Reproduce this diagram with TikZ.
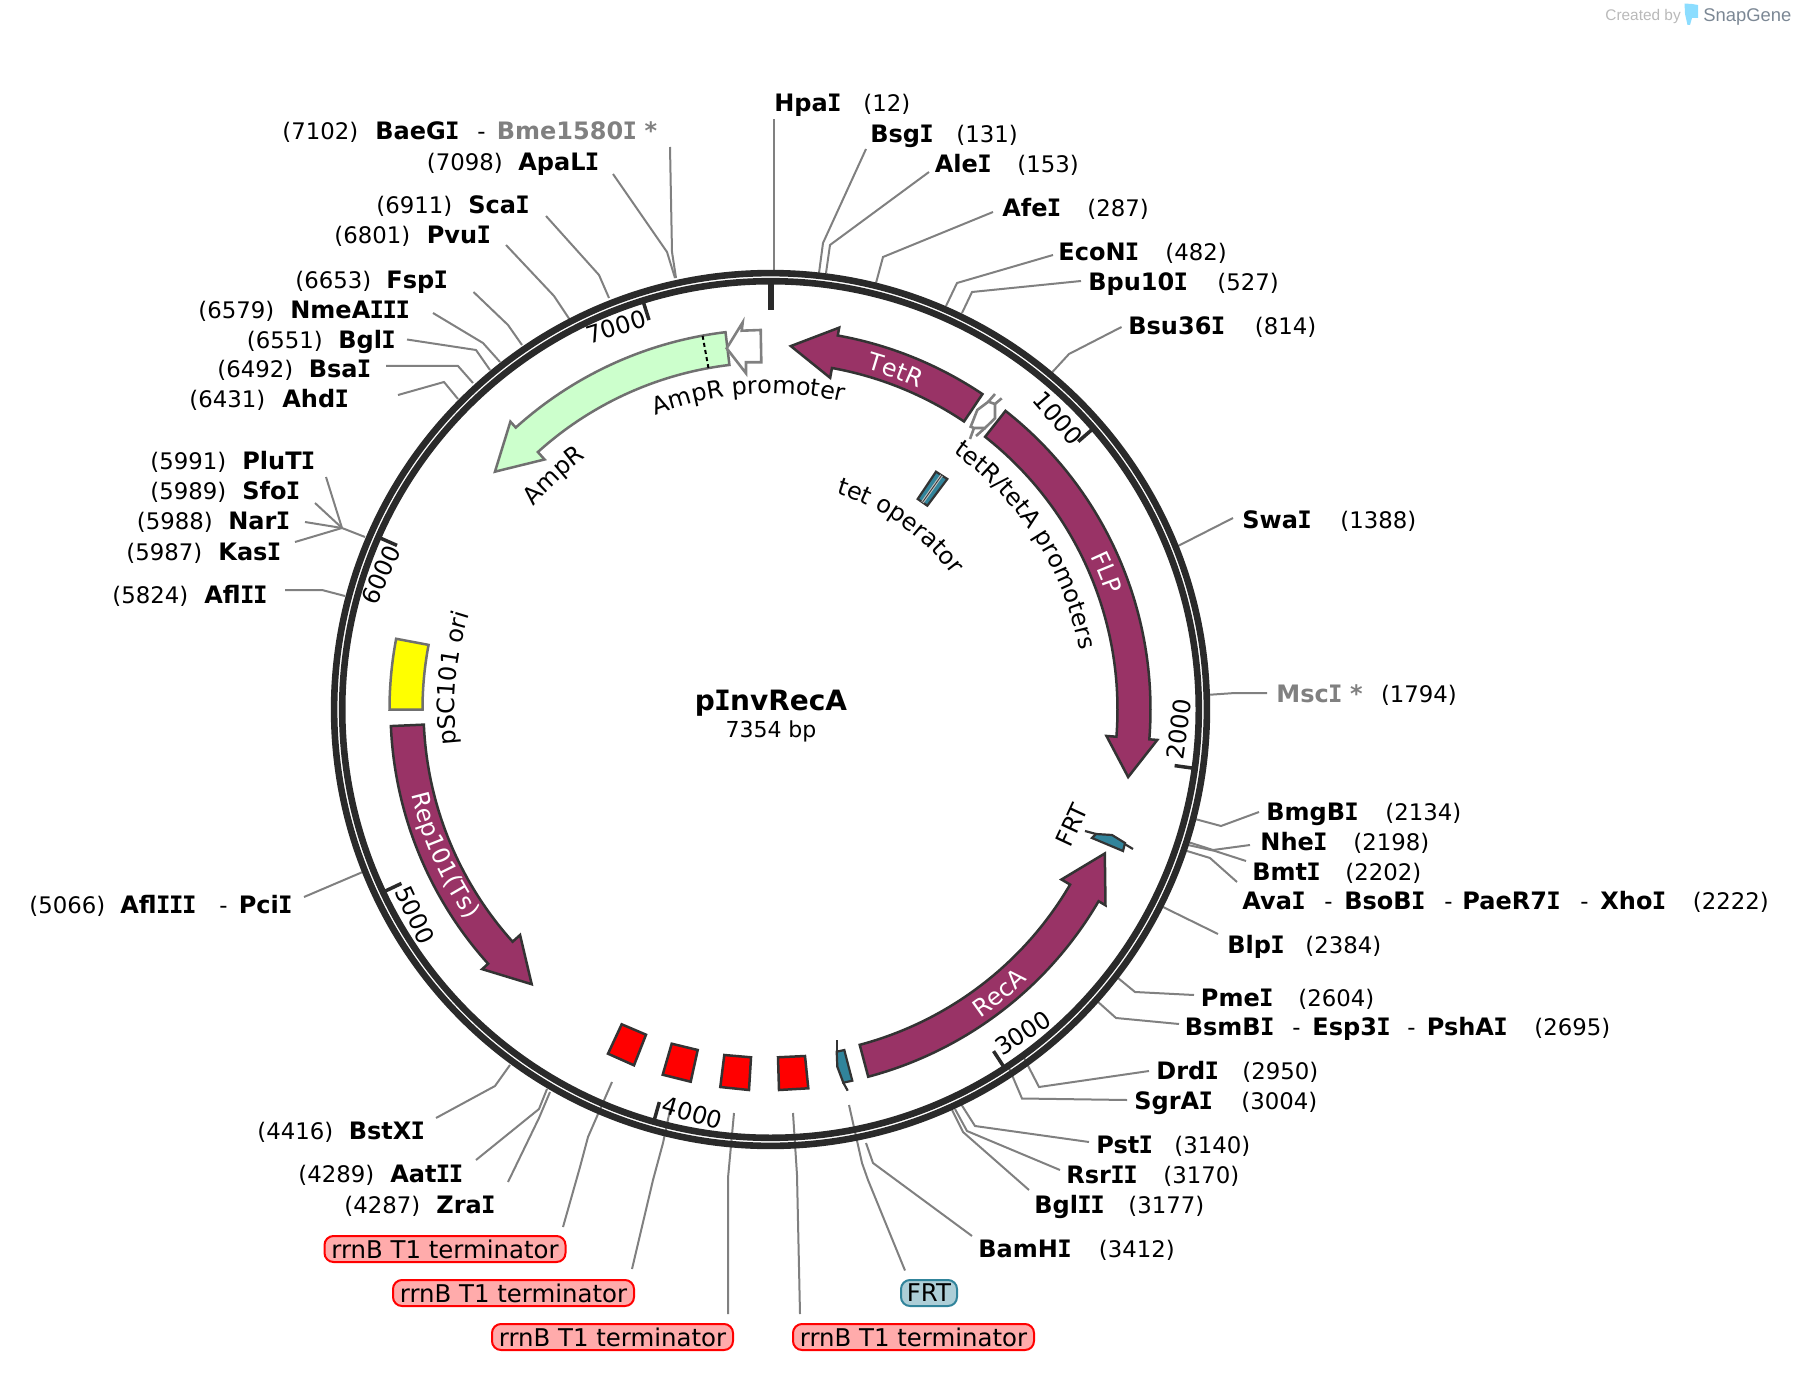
\documentclass[tikz,border=0pt]{standalone}
\usepackage{fontspec}
\setmainfont{DejaVu Sans}
\newfontfamily\logofont{Liberation Sans}
\newfontfamily\slabfont{DejaVu Sans Mono}
\usetikzlibrary{decorations.text}
\definecolor{ringc}{HTML}{2A2A2A}
\definecolor{linec}{HTML}{808080}
\definecolor{plum}{HTML}{993366}
\definecolor{teal2}{HTML}{31849B}
\definecolor{ampg}{HTML}{CCFFCC}
\definecolor{edged}{HTML}{333333}
\definecolor{edgeg}{HTML}{707070}
\definecolor{greyname}{HTML}{808080}
\definecolor{oriyellow}{HTML}{FFFF00}
\newcommand\lblf{\fontsize{12}{14}\selectfont}
\newcommand\posf{\fontsize{11.4}{14}\selectfont}
\newcommand\namef{\fontsize{12}{14}\selectfont\bfseries}
% capital I with slab serifs, as the reference's face draws it
\newcommand\Iz{{\slabfont\kern-.03em I\kern-.03em}}
\newcommand\Pol[2]{({(#1)-90}:#2)}
% label helpers: id, x of position, x of name, y centre, position text, name
\newcommand\SpLab[6]{%
  \node[postext] (#1-pos) at (#2,#4+8.6) {#5};
  \node[nametext] (#1-name) at (#3,#4+8.6) {#6};}
\newcommand\ExLab[4]{\node[postext] (#1) at (#2,#3+8.6) {#4};}
\newcommand\NmLab[4]{\node[nametext] (#1) at (#2,#3+8.6) {#4};}
\newcommand\GnLab[4]{\node[nametext,text=greyname] (#1) at (#2,#3+8.6) {#4};}
\newcommand\CutB[3]{\coordinate (#1-a) at (#2); \coordinate (#1-z) at (#3);
  \draw[cutline] (#1-a) -- (#1-z);}
\newcommand\CutC[4]{\coordinate (#1-a) at (#2); \coordinate (#1-b) at (#3); \coordinate (#1-z) at (#4);
  \draw[cutline] (#1-a) -- (#1-b) -- (#1-z);}
\newcommand\CutD[5]{\coordinate (#1-a) at (#2); \coordinate (#1-b) at (#3); \coordinate (#1-c) at (#4); \coordinate (#1-z) at (#5);
  \draw[cutline] (#1-a) -- (#1-b) -- (#1-c) -- (#1-z);}
\newcommand\ArcArrow[4]{%
  \draw[#4] \Pol{#1}{380} arc[start angle={(#1)-90}, end angle={(#2)-90}, radius=190pt]
    -- \Pol{#2}{388} -- \Pol{#3}{364} -- \Pol{#2}{337} -- \Pol{#2}{347}
    arc[start angle={(#2)-90}, end angle={(#1)-90}, radius=173.5pt] -- cycle;}
% text on an arc: centre angle, half span, radius, format, text
\newcommand\CwText[5]{%
  \path[decorate,decoration={text along path,text align=center,text={|\lblf #4|#5}}]
    \Pol{(#1)-(#2)}{#3} arc[start angle={(#1)-(#2)-90}, end angle={(#1)+(#2)-90}, radius=#3*0.5pt];}
\newcommand\CcwText[5]{%
  \path[decorate,decoration={text along path,text align=center,text={|\lblf #4|#5}}]
    \Pol{(#1)+(#2)}{#3} arc[start angle={(#1)+(#2)-90}, end angle={(#1)-(#2)-90}, radius=#3*0.5pt];}
\tikzset{
  cutline/.style={draw=linec,line width=1pt},
  postext/.style={anchor=base west,inner sep=0pt,font=\posf},
  nametext/.style={anchor=base west,inner sep=0pt,font=\namef},
  ringband/.style={draw=ringc,line width=3.3pt},
  zerotick/.style={draw=ringc,line width=3pt},
  tickmark/.style={draw=ringc,line width=1.75pt},
  ticktext/.style={inner sep=0pt,font=\lblf},
  plumarrow/.style={draw=edged,fill=plum,line width=1.25pt,line join=miter},
  greenarrow/.style={draw=edgeg,fill=ampg,line width=1.25pt},
  redbox/.style={draw=edged,fill=red,line width=1.25pt},
  tealbox/.style={draw=edged,fill=teal2,line width=1.1pt},
  whisker/.style={draw=edged,line width=1.1pt},
  promo/.style={draw=linec,fill=white,line width=1.3pt},
  rrnpill/.style={draw=red,fill=red!33,line width=1pt,rounded corners=4.5pt,inner sep=0pt,
    minimum width=120.5pt,minimum height=13pt,font=\fontsize{12.2}{14}\selectfont,text=black},
  frtpill/.style={draw=teal2,fill=teal2!40,line width=1pt,rounded corners=4.5pt,inner sep=0pt,
    minimum width=28pt,minimum height=13pt,font=\fontsize{12.2}{14}\selectfont,text=black},
}
\begin{document}
\begin{tikzpicture}[x=0.5pt,y=0.5pt,yscale=-1]
\useasboundingbox (0,0) rectangle (1798,1374);
\coordinate (C) at (770.5,709.5);

% ---------- cut-site connectors ----------
\CutB{hpa}{774,275}{774,119}
\CutC{bsg}{819,273}{823,243}{866,149}
\CutC{ale}{826,273}{830,245}{929,172}
\CutC{afe}{876,283}{883,257}{993,212}
\CutC{eco}{946,306}{957,283}{1053,255}
\CutC{bpu}{962,313}{972,292}{1081,281}
\CutC{bsu}{1051.5,373}{1069,354}{1121.5,327}
\CutB{swa}{1178,546}{1233,518}
\CutC{msc}{1206,695}{1235,693}{1267,693}
\CutC{bmg}{1195,819}{1221,826}{1259,812}
\CutC{nhe}{1188,842}{1213,850}{1250,845}
\CutC{bmt}{1188,845}{1215,851}{1246,861}
\CutC{ava}{1187,851}{1210,858}{1237,882}
\CutB{blp}{1163,907}{1218,934}
\CutC{pme}{1118,978}{1135,992}{1194,995}
\CutC{bsm}{1097,1001}{1116,1018}{1179,1024}
\CutC{drd}{1024,1058}{1039,1087}{1149,1071}
\CutC{sgr}{1009,1068}{1022,1098.5}{1127,1100}
\CutC{pst}{961,1104}{975,1126}{1089,1142}
\CutC{rsr}{955,1109}{967,1131}{1060,1170}
\CutC{bgl2}{952,1110}{963,1132}{1029,1190}
\CutC{bam}{866,1143}{873,1163}{972,1236}
\CutD{frtl}{849,1105}{862,1163}{868,1180}{905,1270.5}
\CutC{rrnd}{793,1113}{797,1175}{800,1314}
\CutC{rrnc}{734,1113}{728,1178}{728,1314}
\CutD{rrnb}{670,1110}{663,1143}{653,1180}{632,1269}
\CutD{rrna}{612,1082}{588,1137}{580,1167}{563,1227}
\CutC{zra}{550,1092}{539,1118}{508,1182}
\CutC{aat}{547,1089}{539,1109}{476,1160}
\CutC{bst}{510,1065}{495,1086}{436,1118}
\CutB{afl3}{365,871}{304,897}
\CutC{afl2}{345,596}{322,590}{285,590}
\coordinate (fork) at (342,528);
\coordinate (forkring) at (365,537);
\draw[cutline] (forkring) -- (fork);
\coordinate (plu-z) at (326,477); \draw[cutline] (fork) -- (plu-z);
\coordinate (sfo-z) at (315,503); \draw[cutline] (fork) -- (sfo-z);
\coordinate (nar-z) at (305,522); \draw[cutline] (fork) -- (nar-z);
\coordinate (kas-z) at (295,542); \draw[cutline] (fork) -- (kas-z);
\CutC{ahd}{458,399}{444,382}{398,395}
\CutC{bsa}{473,383}{458,366}{386,366}
\CutC{bgl1}{490,370}{476,350}{407,339.5}
\CutC{nme}{500,362}{483,343}{433,313}
\CutC{fsp}{522,345}{508,325}{473.5,292}
\CutC{pvu}{570,320}{554,296}{506,245}
\CutC{sca}{609,298}{599,275}{546,216}
\CutC{apa}{675,278}{667,252}{613,174}
\CutC{bae}{676,278}{672,252}{670,147}

% ---------- backbone ----------
\draw[ringband] (C) circle[radius=218.2pt];
\draw[ringband] (C) circle[radius=214.15pt];

\begin{scope}[shift={(770.5,709.5)}]
% ticks
\draw[zerotick] \Pol{0}{426} -- \Pol{0}{399};
\foreach \a in {48.953,97.906,146.859,195.812,244.765,293.718,342.671}
  \draw[tickmark] \Pol{\a}{426} -- \Pol{\a}{408};

% arrow features
\ArcArrow{33.9}{10.2}{3.2}{plumarrow}
\ArcArrow{38.2}{94.5}{100.7}{plumarrow}
\ArcArrow{165.1}{120.3}{113.3}{plumarrow}
\ArcArrow{267.5}{228}{221}{plumarrow}
\ArcArrow{-6.8}{-42.1}{-49.2}{greenarrow}
\draw[black,line width=1pt,dash pattern=on 2pt off 1.6pt] \Pol{-10.3}{347} -- \Pol{-10.3}{380};
% pSC101 ori
\draw[draw=edgeg,fill=oriyellow,line width=1.25pt] \Pol{270}{381} arc[start angle=180, end angle=190.7, radius=190.5pt]
  -- \Pol{280.7}{348} arc[start angle=190.7, end angle=180, radius=174pt] -- cycle;

% feature texts on arcs
\CwText{-4.0}{30}{316}{}{AmpR promoter}
\CwText{-42.8}{20}{312}{}{AmpR}
\CwText{20.3}{12}{354}{\color{white}}{TetR}
\CwText{67.8}{12}{355}{\color{white}}{FLP}
\CwText{57.3}{32}{315}{}{tetR/tetA promoters}
\CwText{35.2}{32}{226}{}{tet operator}
\CwText{-84.4}{20}{316}{}{pSC101 ori}
\CcwText{246}{18}{369}{\color{white}}{Rep101(Ts)}
\CcwText{141.1}{12}{373}{\color{white}}{RecA}
\end{scope}

% AmpR promoter arrow
\draw[promo] (726.7,348.3) -- (742.7,322.3) -- (741.7,330.7) -- (760.7,330) -- (761.3,362.3) -- (746,362.3) -- (746,373.3) -- cycle;

% tetR/tetA promoters
\draw[promo] (988.3,401.7) -- (995,404) -- (995,418.3) -- (985,428) -- (974,428) -- (970.7,426.7) -- (977.3,410) -- cycle;
\draw[cutline,line width=1.3pt] (988.3,401.7) -- (995,394);
\draw[cutline,line width=1.3pt] (995,404) -- (1001.7,398.3);
\draw[cutline,line width=1.3pt] (974,428) -- (970,439);
\draw[cutline,line width=1.3pt] (985,428) -- (976,436);

% tet operator
\draw[tealbox] (936,471.7) -- (947.3,479) -- (927.3,505.7) -- (917.7,499) -- cycle;
\draw[draw=lightgray,line width=1.5pt] (941.6,475.3) -- (922.5,502.3);
\draw[draw=edged,line width=.4pt] (941.6,475.3) -- (922.5,502.3);

% FRT right
\draw[whisker] (1085,831) -- (1096,834);
\draw[whisker] (1123,843) -- (1133,849);
\draw[tealbox] (1092,838) -- (1096,834) -- (1112,835) -- (1125,843) -- (1123,851) -- cycle;

% FRT bottom
\draw[whisker] (837.3,1040) -- (837.3,1066.7);
\draw[whisker] (843.3,1082.7) -- (847.7,1090.7);
\draw[tealbox] (836.7,1051.7) -- (844.3,1050) -- (852.3,1080.7) -- (843.3,1082.7) -- (837.3,1066.7) -- cycle;

% terminators
\draw[redbox] (621.7,1024.3) -- (646,1034.7) -- (634,1065.3) -- (608,1053.7) -- cycle;
\draw[redbox] (671.7,1043.7) -- (697.7,1050) -- (690.7,1081.7) -- (662.7,1074.7) -- cycle;
\draw[redbox] (724.3,1055) -- (751,1057.3) -- (749,1090) -- (720.3,1087) -- cycle;
\draw[redbox] (778,1057.3) -- (805,1056) -- (808.3,1088.3) -- (779,1090) -- cycle;

% tick labels and small rotated label
\node[ticktext,rotate=-49] (t1000) at (1058,418) {1000};
\node[ticktext,rotate=82] (t2000) at (1179,729) {2000};
\node[ticktext,rotate=33] (t3000) at (1023,1033) {3000};
\node[ticktext,rotate=-16] (t4000) at (692.5,1113) {4000};
\node[ticktext,rotate=-65] (t5000) at (415,915) {5000};
\node[ticktext,rotate=66] (t6000) at (381,575) {6000};
\node[ticktext,rotate=17] (t7000) at (616,327) {7000};
\node[ticktext,rotate=65] (frtlab) at (1071.7,825) {FRT};

% centre
\node[inner sep=0pt,font=\fontsize{14}{16}\selectfont\bfseries] (title) at (771,703) {p\Iz nvRecA};
\node[inner sep=0pt,font=\fontsize{11}{13}\selectfont] (size) at (771,731) {7354 bp};

% right-hand and top labels
\SpLab{l-hpa}{863}{774}{103}{(12)}{Hpa\Iz}
\SpLab{l-bsg}{956}{870}{134}{(131)}{Bsg\Iz}
\SpLab{l-ale}{1017}{934.5}{164}{(153)}{Ale\Iz}
\SpLab{l-afe}{1087}{1002}{207.5}{(287)}{Afe\Iz}
\SpLab{l-eco}{1165}{1058}{252}{(482)}{EcoN\Iz}
\SpLab{l-bpu}{1217}{1088}{282}{(527)}{Bpu10\Iz}
\SpLab{l-bsu}{1254.5}{1128}{325.6}{(814)}{Bsu36\Iz}
\SpLab{l-swa}{1340}{1242}{519.5}{(1388)}{Swa\Iz}
\ExLab{l-msc-pos}{1380.6}{694}{(1794)}
\GnLab{l-msc}{1276}{694}{Msc\Iz\ *}
\SpLab{l-bmg}{1385}{1266}{812}{(2134)}{BmgB\Iz}
\SpLab{l-nhe}{1353}{1260}{842}{(2198)}{Nhe\Iz}
\SpLab{l-bmt}{1345}{1252}{871.5}{(2202)}{Bmt\Iz}
\SpLab{l-ava}{1692.5}{1242}{901}{(2222)}{Ava\Iz}
\ExLab{l-ava-d1}{1324}{901}{-}
\NmLab{l-bso}{1344}{901}{BsoB\Iz}
\ExLab{l-ava-d2}{1444}{901}{-}
\NmLab{l-pae}{1462}{901}{PaeR7\Iz}
\ExLab{l-ava-d3}{1580}{901}{-}
\NmLab{l-xho}{1600}{901}{Xho\Iz}
\SpLab{l-blp}{1305}{1227}{945}{(2384)}{Blp\Iz}
\SpLab{l-pme}{1298}{1200.5}{997.6}{(2604)}{Pme\Iz}
\SpLab{l-bsm}{1534}{1184.5}{1027}{(2695)}{BsmB\Iz}
\ExLab{l-bsm-d1}{1292}{1027}{-}
\NmLab{l-esp}{1312}{1027}{Esp3\Iz}
\ExLab{l-bsm-d2}{1407}{1027}{-}
\NmLab{l-psh}{1426.5}{1027}{PshA\Iz}
\SpLab{l-drd}{1242}{1156}{1071}{(2950)}{Drd\Iz}
\SpLab{l-sgr}{1241}{1134}{1101}{(3004)}{SgrA\Iz}
\SpLab{l-pst}{1174}{1096}{1144.4}{(3140)}{Pst\Iz}
\SpLab{l-rsr}{1163}{1066}{1175}{(3170)}{Rsr\Iz\Iz}
\SpLab{l-bgl2}{1128}{1034}{1205}{(3177)}{Bgl\Iz\Iz}
\SpLab{l-bam}{1098.5}{978}{1249}{(3412)}{BamH\Iz}

% left-hand labels
\SpLab{l-bae}{282}{375}{131}{(7102)}{BaeG\Iz}
\ExLab{l-bae-d}{477}{131}{-}
\GnLab{l-bme}{496.5}{131}{Bme1580\Iz\ *}
\SpLab{l-apa}{426.5}{518}{162}{(7098)}{ApaL\Iz}
\SpLab{l-sca}{376}{468}{205}{(6911)}{Sca\Iz}
\SpLab{l-pvu}{334}{426.5}{235}{(6801)}{Pvu\Iz}
\SpLab{l-fsp}{295}{386}{280}{(6653)}{Fsp\Iz}
\SpLab{l-nme}{198}{290}{310}{(6579)}{NmeA\Iz\Iz\Iz}
\SpLab{l-bgl1}{246.5}{338}{339.5}{(6551)}{Bgl\Iz}
\SpLab{l-bsa}{217}{308.5}{369}{(6492)}{Bsa\Iz}
\SpLab{l-ahd}{189}{282}{399}{(6431)}{Ahd\Iz}
\SpLab{l-plu}{150}{242}{461}{(5991)}{PluT\Iz}
\SpLab{l-sfo}{150}{242}{491}{(5989)}{Sfo\Iz}
\SpLab{l-nar}{136.5}{228}{520.6}{(5988)}{Nar\Iz}
\SpLab{l-kas}{126}{218}{551.5}{(5987)}{Kas\Iz}
\SpLab{l-afl2}{112}{204}{595}{(5824)}{Afl\Iz\Iz}
\SpLab{l-afl3}{29}{120}{905}{(5066)}{Afl\Iz\Iz\Iz}
\ExLab{l-afl3-d}{219}{905}{-}
\NmLab{l-pci}{238.5}{905}{Pci\Iz}
\SpLab{l-bst}{257}{348.5}{1131}{(4416)}{BstX\Iz}
\SpLab{l-aat}{298}{390}{1174}{(4289)}{Aat\Iz\Iz}
\SpLab{l-zra}{344}{436}{1205}{(4287)}{Zra\Iz}

% pills
\node[rrnpill] (pill-a) at (445,1249) {rrnB T1 terminator};
\node[rrnpill] (pill-b) at (513.5,1293) {rrnB T1 terminator};
\node[rrnpill] (pill-c) at (612.5,1337) {rrnB T1 terminator};
\node[rrnpill] (pill-d) at (913.5,1337) {rrnB T1 terminator};
\node[frtpill] (pill-frt) at (929,1293) {FRT};

% credit
\node[anchor=west,inner sep=0pt,text={rgb,255:red,185;green,185;blue,185},font=\logofont\fontsize{7.7}{9}\selectfont] (credit) at (1605,17) {Created by};
\node[anchor=west,inner sep=0pt,text={rgb,255:red,123;green,135;blue,148},font=\logofont\fontsize{9.2}{11}\selectfont] (brand) at (1703,17) {SnapGene};
\fill[blue!30!cyan!45!white] (1684.5,3.5) -- (1692,4) -- (1698,5) -- (1698,18) -- (1692,18) -- (1690,25) -- (1687.5,25) -- (1685,14) -- cycle;
\end{tikzpicture}
\end{document}
